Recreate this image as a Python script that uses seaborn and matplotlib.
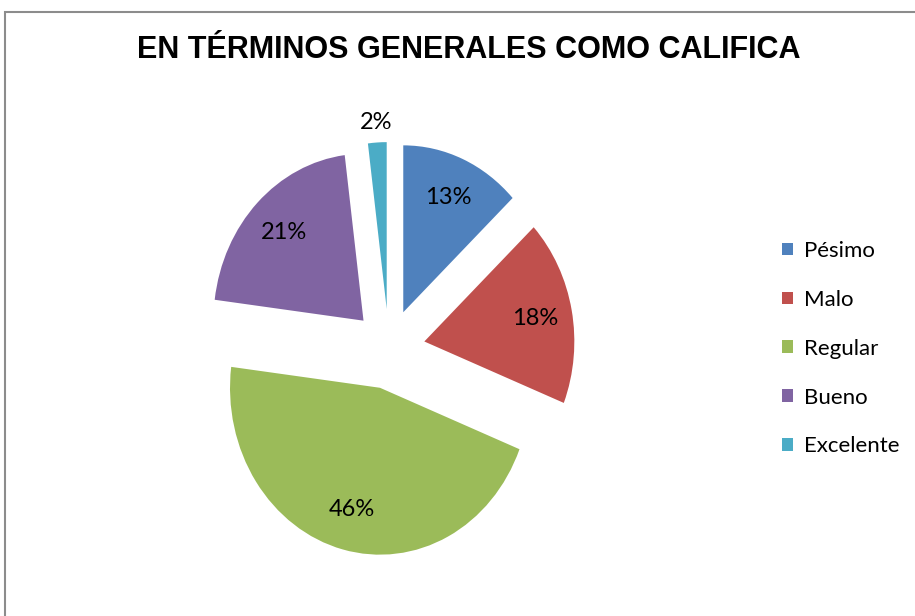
import matplotlib
matplotlib.use("Agg")
import matplotlib.pyplot as plt
import numpy as np
import seaborn as sns
from matplotlib.patches import Rectangle

# data
categorias = ["Pésimo", "Malo", "Regular", "Bueno", "Excelente"]
porcentajes = [13, 18, 46, 21, 2]
colores = ["#4F81BD", "#C0504D", "#9BBB59", "#8064A2", "#4BACC6"]
titulo = "EN TÉRMINOS GENERALES COMO CALIFICA"

sns.set_theme(style="white")
plt.rcParams['font.family'] = ['Lato', 'DejaVu Sans']
plt.rcParams['text.color'] = 'black'

fig = plt.figure(figsize=(9.15, 6.16), dpi=100)
fig.patch.set_facecolor("white")

# pie axes (slightly stretched vertically, like the original)
ax = fig.add_axes([0.1628, 0.0, 0.5246, 0.8669])
wedges, texts, autotexts = ax.pie(
    porcentajes, colors=colores, startangle=90, counterclock=False,
    explode=[0.24] * len(porcentajes), autopct="%1.0f%%", pctdistance=0.75,
    textprops={"fontsize": 17, "color": "black"},
    wedgeprops={"linewidth": 0},
)
ax.set_aspect("auto")
ax.set_xlim(-1.6, 1.6)
ax.set_ylim(-1.6, 1.6)

# the tiny slice gets its label outside
w, t = wedges[-1], autotexts[-1]
mid = np.deg2rad((w.theta1 + w.theta2) / 2)
cx, cy = w.center
t.set_position((cx + 1.12 * np.cos(mid), cy + 1.12 * np.sin(mid)))

fig.text(0.512, 0.919, titulo, ha="center", va="center", fontsize=22,
         fontweight="bold", color="black", family=["Liberation Sans"])

leg = fig.legend(wedges, categorias, loc="center left",
                 bbox_to_anchor=(782 / 915, 0.434), bbox_transform=fig.transFigure,
                 frameon=False, fontsize=16, handlelength=0.5, handleheight=0.5,
                 handletextpad=0.5, labelspacing=1.3, borderpad=0, borderaxespad=0)
for txt in leg.get_texts():
    txt.set_color("black")

# chart border (only left and top are visible in the crop)
fig.add_artist(Rectangle((5 / 915, -0.2), 1.2, 1.2 - 12 / 616,
                         transform=fig.transFigure, fill=False,
                         edgecolor="#8c8c8c", linewidth=1.5))

fig.savefig("out.png", dpi=100, facecolor="white")
